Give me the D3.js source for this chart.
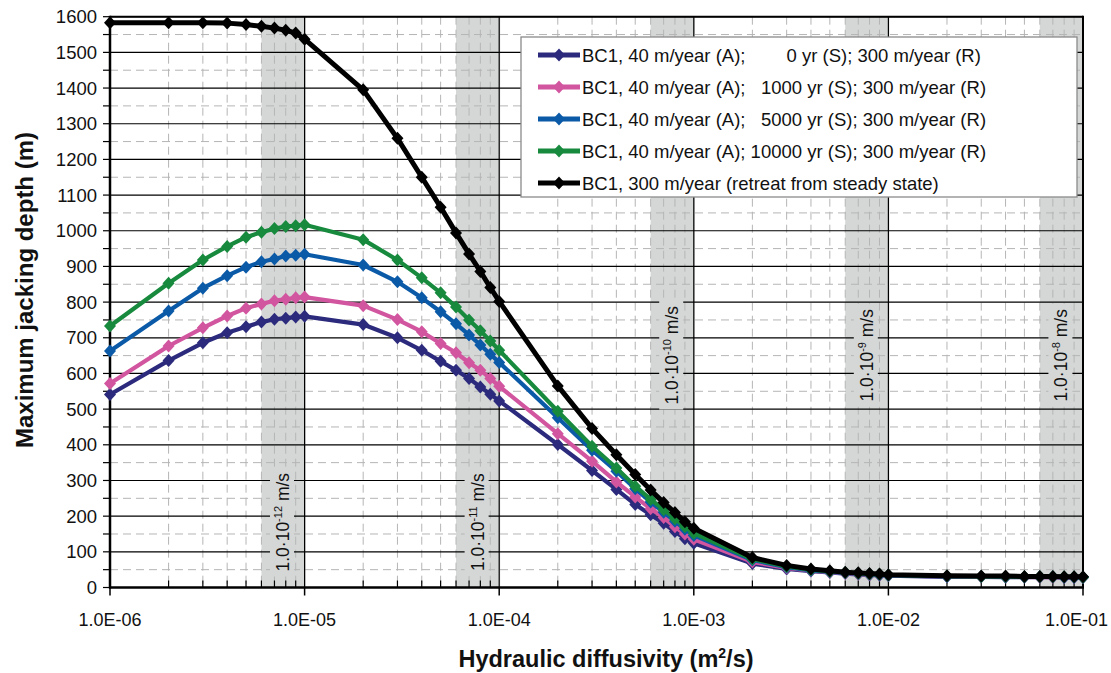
<!DOCTYPE html>
<html lang="en">
<head>
    <meta charset="UTF-8">
    <title>Maximum jacking depth vs hydraulic diffusivity</title>
    <script src="https://cdnjs.cloudflare.com/ajax/libs/d3/7.8.5/d3.min.js"></script>
    <style>
        body {
            margin: 0;
            background-color: #ffffff;
            font-family: Arial, "Liberation Sans", sans-serif;
        }
        svg text {
            font-family: Arial, "Liberation Sans", sans-serif;
        }
    </style>
</head>
<body>
    <svg width="1111" height="673"></svg>
    <script>
// hydraulic diffusivity (m2/s)
const diffusivity = [
    1e-6, 2e-6, 3e-6, 4e-6, 5e-6, 6e-6, 7e-6, 8e-6, 9e-6,
    1e-5, 2e-5, 3e-5, 4e-5, 5e-5, 6e-5, 7e-5, 8e-5, 9e-5,
    1e-4, 2e-4, 3e-4, 4e-4, 5e-4, 6e-4, 7e-4, 8e-4, 9e-4,
    1e-3, 2e-3, 3e-3, 4e-3, 5e-3, 6e-3, 7e-3, 8e-3, 9e-3,
    1e-2, 2e-2, 3e-2, 4e-2, 5e-2, 6e-2, 7e-2, 8e-2, 9e-2,
    1e-1
];

// maximum jacking depth (m), one array per series
const bc1_0yr = [
    541, 636, 686, 714, 731, 744, 752, 755, 758,
    760, 737, 700, 665, 634, 609, 586, 562, 542,
    523, 401, 328, 275, 233, 204, 180, 157, 137,
    124, 67, 52, 46, 42, 39, 37, 35, 34,
    33, 30, 30, 29, 29, 29, 29, 28, 28,
    28
];
const bc1_1000yr = [
    572, 677, 728, 761, 783, 795, 804, 808, 812,
    814, 790, 751, 717, 684, 658, 630, 609, 586,
    564, 431, 354, 296, 254, 221, 196, 170, 150,
    135, 72, 55, 47, 43, 40, 38, 36, 35,
    34, 31, 30, 30, 30, 29, 29, 29, 29,
    29
];
const bc1_5000yr = [
    663, 775, 839, 874, 898, 913, 921, 929, 931,
    934, 904, 857, 812, 773, 739, 708, 680, 654,
    631, 476, 385, 326, 277, 240, 211, 186, 163,
    146, 77, 57, 48, 44, 41, 39, 37, 36,
    34, 31, 31, 30, 30, 30, 30, 29, 29,
    29
];
const bc1_10000yr = [
    733, 853, 918, 956, 982, 996, 1006, 1012, 1014,
    1017, 975, 918, 868, 826, 786, 750, 720, 691,
    665, 494, 396, 335, 284, 247, 218, 193, 170,
    152, 80, 59, 50, 45, 42, 40, 38, 37,
    35, 32, 31, 31, 30, 30, 30, 30, 30,
    29
];
const bc1_steady = [
    1583, 1583, 1583, 1582, 1578, 1573, 1568, 1562, 1554,
    1537, 1395, 1259, 1150, 1066, 994, 935, 886, 841,
    802, 565, 446, 372, 317, 273, 238, 210, 184,
    166, 84, 62, 52, 47, 43, 41, 39, 38,
    36, 33, 32, 32, 31, 31, 31, 30, 30,
    30
];

const seriesNames = [
    "BC1, 40 m/year (A);        0 yr (S); 300 m/year (R)",
    "BC1, 40 m/year (A);   1000 yr (S); 300 m/year (R)",
    "BC1, 40 m/year (A);   5000 yr (S); 300 m/year (R)",
    "BC1, 40 m/year (A); 10000 yr (S); 300 m/year (R)",
    "BC1, 300 m/year (retreat from steady state)"
];
const seriesValues = [bc1_0yr, bc1_1000yr, bc1_5000yr, bc1_10000yr, bc1_steady];
const seriesColors = ["#2b2a7c", "#d2559f", "#0b5aa8", "#178a3e", "#000000"];

// shaded bands (decade end) and their conductivity labels
const bandEnds = [1e-5, 1e-4, 1e-3, 1e-2, 1e-1];
const bandExponents = ["-12", "-11", "-10", "-9", "-8"];
const bandLabelDepth = [183, 183, 651, 651, 651];

const xTickValues = [1e-6, 1e-5, 1e-4, 1e-3, 1e-2, 1e-1];
const xTickLabels = ["1.0E-06", "1.0E-05", "1.0E-04", "1.0E-03", "1.0E-02", "1.0E-01"];
const yTickValues = d3.range(0, 1601, 100);

const svg = d3.select("svg");
const margin = {left: 110, right: 28, top: 16.7, bottom: 85.5};
const width = 1111, height = 673;

const x = d3.scaleLog()
    .domain([1e-6, 1e-1])
    .range([margin.left, width - margin.right]);
const y = d3.scaleLinear()
    .domain([0, 1600])
    .range([height - margin.bottom, margin.top]);

const [x0, x1] = x.range();
const [yBottom, yTop] = y.range();

// minor decade positions (2..9 x 10^n)
const minorX = [];
xTickValues.slice(0, -1).forEach(d => {
    for (let k = 2; k <= 9; k++) minorX.push(d * k);
});

// bands
svg.append("g").selectAll("rect")
    .data(bandEnds)
    .join("rect")
    .attr("x", d => x(d * 0.6))
    .attr("y", yTop)
    .attr("width", d => x(d) - x(d * 0.6) + 1)
    .attr("height", yBottom - yTop)
    .attr("fill", "#d5d7d7");

// grid
const grid = svg.append("g");
grid.selectAll(".minor-h")
    .data(d3.range(50, 1600, 100))
    .join("line")
    .attr("x1", x0).attr("x2", x1)
    .attr("y1", d => y(d)).attr("y2", d => y(d))
    .attr("stroke", "#b5b5b5")
    .attr("stroke-dasharray", "8,5");
grid.selectAll(".minor-v")
    .data(minorX)
    .join("line")
    .attr("x1", d => x(d)).attr("x2", d => x(d))
    .attr("y1", yTop).attr("y2", yBottom)
    .attr("stroke", "#b5b5b5")
    .attr("stroke-dasharray", "8,5");
grid.selectAll(".major-h")
    .data(yTickValues.slice(1))
    .join("line")
    .attr("x1", x0).attr("x2", x1)
    .attr("y1", d => y(d)).attr("y2", d => y(d))
    .attr("stroke", "#000")
    .attr("stroke-width", 1.2);
grid.selectAll(".major-v")
    .data(xTickValues.slice(1))
    .join("line")
    .attr("x1", d => x(d)).attr("x2", d => x(d))
    .attr("y1", yTop).attr("y2", yBottom)
    .attr("stroke", "#000")
    .attr("stroke-width", 1.2);

// band labels with a grey box behind them
const bandLabels = svg.append("g").selectAll("g")
    .data(bandEnds)
    .join("g")
    .attr("transform", (d, i) => {
        const cx = (x(d * 0.6) + x(d)) / 2;
        return `translate(${cx + 6},${y(bandLabelDepth[i])}) rotate(-90)`;
    });
bandLabels.each(function(d, i) {
    const g = d3.select(this);
    const box = g.append("rect").attr("fill", "#d5d7d7");
    const t = g.append("text")
        .attr("text-anchor", "middle")
        .attr("font-size", 17.5)
        .attr("fill", "#111");
    t.append("tspan").text("1.0·10");
    t.append("tspan").attr("dy", -7).attr("font-size", 11).text(bandExponents[i]);
    t.append("tspan").attr("dy", 7).text(" m/s");
    const bb = t.node().getBBox();
    box.attr("x", bb.x - 5).attr("y", bb.y - 2)
        .attr("width", bb.width + 10).attr("height", bb.height + 3);
});

// axes
const xAxis = svg.append("g");
xAxis.append("line")
    .attr("x1", x0 - 1).attr("x2", x1 + 1)
    .attr("y1", yBottom).attr("y2", yBottom)
    .attr("stroke", "#000").attr("stroke-width", 2.5);
xAxis.selectAll(".tick-major")
    .data(xTickValues)
    .join("line")
    .attr("x1", d => x(d)).attr("x2", d => x(d))
    .attr("y1", yBottom).attr("y2", yBottom + 8)
    .attr("stroke", "#000").attr("stroke-width", 1.5);
xAxis.selectAll(".tick-minor")
    .data(minorX)
    .join("line")
    .attr("x1", d => x(d)).attr("x2", d => x(d))
    .attr("y1", yBottom).attr("y2", yBottom - 7)
    .attr("stroke", "#000").attr("stroke-width", 1.2);
xAxis.selectAll("text")
    .data(xTickValues)
    .join("text")
    .attr("y", yBottom + 38)
    .attr("font-size", 18)
    .attr("fill", "#111")
    .text((d, i) => xTickLabels[i])
    .each(function(d) {
        // keep the last label inside the picture
        const w = this.getComputedTextLength();
        const cx = Math.min(x(d), width - 3 - w / 2);
        d3.select(this).attr("x", cx).attr("text-anchor", "middle");
    });

const yAxis = svg.append("g");
yAxis.append("line")
    .attr("x1", x0).attr("x2", x0)
    .attr("y1", yTop - 1).attr("y2", yBottom + 1)
    .attr("stroke", "#000").attr("stroke-width", 2.5);
yAxis.selectAll(".tick")
    .data(d3.range(0, 1601, 50))
    .join("line")
    .attr("x1", x0 - 7).attr("x2", x0)
    .attr("y1", d => y(d)).attr("y2", d => y(d))
    .attr("stroke", "#000").attr("stroke-width", 1.2);
yAxis.selectAll("text")
    .data(yTickValues)
    .join("text")
    .attr("x", x0 - 13)
    .attr("y", d => y(d) + 6.5)
    .attr("text-anchor", "end")
    .attr("font-size", 18.5)
    .attr("fill", "#111")
    .text(d => d);

// right and top frame
svg.append("line")
    .attr("x1", x1).attr("x2", x1)
    .attr("y1", yTop - 1).attr("y2", yBottom)
    .attr("stroke", "#000").attr("stroke-width", 2);
svg.append("line")
    .attr("x1", x0).attr("x2", x1)
    .attr("y1", yTop).attr("y2", yTop)
    .attr("stroke", "#000").attr("stroke-width", 2);

// series
const diamond = "M0,-6.5L6,0L0,6.5L-6,0Z";
const line = d3.line()
    .x(d => x(d[0]))
    .y(d => y(d[1]));

seriesValues.forEach((vals, i) => {
    const pts = diffusivity.map((d, j) => [d, vals[j]]);
    const g = svg.append("g");
    g.append("path")
        .datum(pts)
        .attr("d", line)
        .attr("fill", "none")
        .attr("stroke", seriesColors[i])
        .attr("stroke-width", i === 4 ? 5 : 4.2)
        .attr("stroke-linejoin", "round");
    g.selectAll("path.m")
        .data(pts)
        .join("path")
        .attr("class", "m")
        .attr("d", diamond)
        .attr("transform", d => `translate(${x(d[0])},${y(d[1])})`)
        .attr("fill", seriesColors[i]);
});

// legend
const legend = svg.append("g");
legend.append("rect")
    .attr("x", 521).attr("y", 37)
    .attr("width", 556).attr("height", 160)
    .attr("fill", "#fff")
    .attr("stroke", "#8a8a8a")
    .attr("stroke-width", 1.3);
const items = legend.selectAll("g.item")
    .data(seriesNames)
    .join("g")
    .attr("class", "item")
    .attr("transform", (d, i) => `translate(538,${55 + i * 32})`);
items.append("line")
    .attr("x1", 0).attr("x2", 42)
    .attr("stroke", (d, i) => seriesColors[i])
    .attr("stroke-width", 5);
items.append("path")
    .attr("d", diamond)
    .attr("transform", "translate(21,0)")
    .attr("fill", (d, i) => seriesColors[i]);
items.append("text")
    .attr("x", 44)
    .attr("y", 6.5)
    .attr("font-size", 18.5)
    .attr("fill", "#111")
    .style("white-space", "pre")
    .text(d => d);

// axis titles
svg.append("text")
    .attr("x", 606)
    .attr("y", 667)
    .attr("text-anchor", "middle")
    .attr("font-size", 23.5)
    .attr("font-weight", "bold")
    .attr("fill", "#111")
    .call(t => {
        t.append("tspan").text("Hydraulic diffusivity (m");
        t.append("tspan").attr("dy", -9).attr("font-size", 14).text("2");
        t.append("tspan").attr("dy", 9).text("/s)");
    });
svg.append("text")
    .attr("transform", "translate(33,290) rotate(-90)")
    .attr("text-anchor", "middle")
    .attr("font-size", 24)
    .attr("font-weight", "bold")
    .attr("fill", "#111")
    .text("Maximum jacking depth (m)");
    </script>
</body>
</html>
